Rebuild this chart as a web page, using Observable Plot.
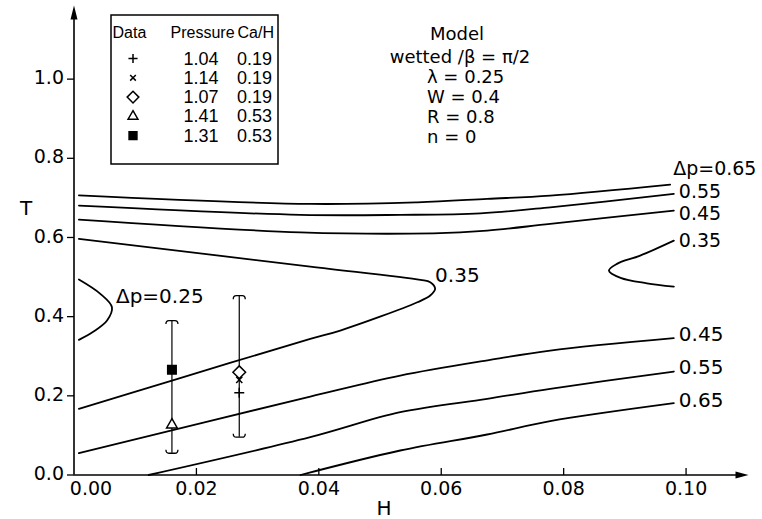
<!DOCTYPE html>
<html><head><meta charset="utf-8">
<script src="https://cdn.jsdelivr.net/npm/d3@7"></script>
<script src="https://cdn.jsdelivr.net/npm/@observablehq/plot@0.6"></script>
<style>
html,body{margin:0;padding:0;background:#fff;}
#chart{width:762px;height:519px;}
</style></head><body><div id="chart"></div>
<script>
// ---- contour lines of Δp, points are [H, T] ----
const dp065Upper = [[0.0008,0.7066],[0.0386,0.6848],[0.0561,0.6889],[0.0675,0.6975],[0.0778,0.7058],[0.0974,0.7336]];
const dp055Upper = [[0.0008,0.6806],[0.0370,0.6571],[0.0533,0.6571],[0.0664,0.6611],[0.0778,0.6763],[0.0980,0.7101]];
const dp045Upper = [[0.0008,0.6452],[0.0370,0.6131],[0.0587,0.6106],[0.0675,0.6174],[0.0778,0.6343],[0.0980,0.6679]];
const dp035Left  = [[0.0008,0.5965],[0.0386,0.5265],[0.0566,0.4929],[0.0582,0.4869],[0.0590,0.4702],[0.0582,0.4533],[0.0561,0.4364],[0.0435,0.3649],[0.0386,0.3439],[0.0160,0.2386],[0.0008,0.1672]];
const dp035Right = [[0.0980,0.5922],[0.0925,0.5543],[0.0887,0.5333],[0.0874,0.5164],[0.0893,0.4980],[0.0936,0.4843],[0.0980,0.4760]];
const dp025      = [[0.0008,0.4937],[0.0043,0.4576],[0.0062,0.4237],[0.0054,0.3902],[0.0032,0.3624],[0.0008,0.3414]];
const dp045Lower = [[0.0008,0.0551],[0.0386,0.1982],[0.0533,0.2513],[0.0680,0.2909],[0.0778,0.3144],[0.0980,0.3455]];
const dp055Lower = [[0.0122,0.0],[0.0386,0.0955],[0.0533,0.1586],[0.0675,0.1924],[0.0778,0.2177],[0.0980,0.2614]];
const dp065Lower = [[0.0370,0.0],[0.0533,0.0619],[0.0675,0.1023],[0.0778,0.1359],[0.0980,0.1813]];

// ---- experimental data ----
const seriesNames    = ["+", "×", "◇", "△", "■"];
const seriesPressure = ["1.04", "1.14", "1.07", "1.41", "1.31"];
const seriesCaH      = ["0.19", "0.19", "0.19", "0.53", "0.53"];
const pointH = [0.0270, 0.0270, 0.0270, 0.0160, 0.0160];
const pointT = [0.2076, 0.2404, 0.2597, 0.1268, 0.2657];
const barH    = [0.0160, 0.0270];
const barLow  = [0.055, 0.0955];
const barHigh = [0.390, 0.453];

// ---- axes ----
const xMax = 0.1102, yMax = 1.186;
const xTicks = [0, 0.02, 0.04, 0.06, 0.08, 0.10];
const xTickLabels = ["0.00", "0.02", "0.04", "0.06", "0.08", "0.10"];
const yTicks = [0, 0.2, 0.4, 0.6, 0.8, 1.0];
const yTickLabels = ["0.0", "0.2", "0.4", "0.6", "0.8", "1.0"];
const legendHeaders = ["Data", "Pressure", "Ca/H"];
const modelLines = ["Model", "wetted /β = π/2", "λ = 0.25", "W = 0.4", "R = 0.8", "n = 0"];

// ---- styles ----
const FONT = "DejaVu Sans, sans-serif";
const LFONT = "Liberation Sans, Arial, sans-serif";
const symbolNames = ["plus", "times", "diamond2", "triangle2", "square"];
const symbolR = [3.3, 2.9, 5.7, 5.1, 4.8];
const d3Symbols = [d3.symbolPlus, d3.symbolTimes, d3.symbolDiamond2, d3.symbolTriangle2, d3.symbolSquare];

const contours = [
  ["065u", dp065Upper], ["055u", dp055Upper], ["045u", dp045Upper],
  ["035l", dp035Left], ["035r", dp035Right], ["025", dp025],
  ["045l", dp045Lower], ["055l", dp055Lower], ["065l", dp065Lower]
];
const contourRows = contours.flatMap(([id, pts]) => pts.map(([H, T]) => ({id, H, T})));

const capTop = {draw(c){ c.moveTo(-6,3.5); c.quadraticCurveTo(-6,0,-3,0); c.lineTo(3,0); c.quadraticCurveTo(6,0,6,3.5); }};
const capBot = {draw(c){ c.moveTo(-6,-3.5); c.quadraticCurveTo(-6,0,-3,0); c.lineTo(3,0); c.quadraticCurveTo(6,0,6,-3.5); }};
const tickUp = {draw(c){ c.moveTo(0,0); c.lineTo(0,-7); }};
const tickLeft = {draw(c){ c.moveTo(0,0); c.lineTo(-7,0); }};
const arrowUp = {draw(c){ c.moveTo(0,0); c.lineTo(-3.5,14); c.lineTo(3.5,14); c.closePath(); }};
const arrowRight = {draw(c){ c.moveTo(0,0); c.lineTo(-13,-3.5); c.lineTo(-13,3.5); c.closePath(); }};

function label(pts, idx, text, dx, dy, size = 20) {
  const p = idx < 0 ? pts[pts.length + idx] : pts[idx];
  return Plot.text([p], {x: d => d[0], y: d => d[1], text: () => text, dx, dy,
    textAnchor: "start", fontSize: size, fill: "black", fontFamily: FONT});
}
function vertex(pts) { return pts.reduce((a, b) => (b[0] > a[0] ? b : a)); }

const points = pointH.map((H, i) => ({H, T: pointT[i], i}));
const bars = barH.map((H, i) => ({H, lo: barLow[i], hi: barHigh[i]}));

const marks = [
  // axes
  Plot.ruleX([0], {y1: 0, y2: yMax - 0.02, stroke: "black", strokeWidth: 1.6}),
  Plot.ruleY([0], {x1: 0, x2: xMax - 0.001, stroke: "black", strokeWidth: 1.6}),
  Plot.dot([[0, yMax]], {x: d => d[0], y: d => d[1], symbol: arrowUp, r: 1, fill: "black", stroke: "none"}),
  Plot.dot([[xMax, 0]], {x: d => d[0], y: d => d[1], symbol: arrowRight, r: 1, fill: "black", stroke: "none"}),
  Plot.dot(xTicks.slice(1), {x: d => d, y: () => 0, symbol: tickUp, r: 1, stroke: "black", fill: "none", strokeWidth: 1.3}),
  Plot.dot(yTicks, {x: () => 0, y: d => d, symbol: tickLeft, r: 1, stroke: "black", fill: "none", strokeWidth: 1.3}),
  Plot.text(xTicks.slice(1), {x: d => d, y: () => 0, text: (d, i) => xTickLabels[i + 1], dy: 14, fontSize: 19, fontFamily: FONT, fill: "black"}),
  Plot.text([xTicks[0]], {x: d => d, y: () => 0, text: () => xTickLabels[0], dy: 14, dx: 17, fontSize: 19, fontFamily: FONT, fill: "black"}),
  Plot.text(yTicks, {x: () => 0, y: d => d, text: (d, i) => yTickLabels[i], dx: -10, dy: -1, textAnchor: "end", fontSize: 19, fontFamily: FONT, fill: "black"}),
  // contours
  Plot.line(contourRows, {x: "H", y: "T", z: "id", curve: "catmull-rom", stroke: "black", strokeWidth: 1.8}),
  label(dp065Upper, -1, "Δp=0.65", 3, -16, 19),
  label(dp055Upper, -1, "0.55", 5, -2, 19),
  label(dp045Upper, -1, "0.45", 5, 3, 19),
  label(dp035Right, 0, "0.35", 5, 0, 19),
  label(dp045Lower, -1, "0.45", 5, -4),
  label(dp055Lower, -1, "0.55", 5, -4),
  label(dp065Lower, -1, "0.65", 5, -3),
  label([vertex(dp035Left)], 0, "0.35", 0, -13),
  label([vertex(dp025)], 0, "Δp=0.25", 4, -11),
  // error bars
  Plot.ruleX(bars, {x: "H", y1: "lo", y2: "hi", stroke: "black", strokeWidth: 1.2}),
  Plot.dot(bars, {x: "H", y: "hi", symbol: capTop, r: 1, stroke: "black", fill: "none", strokeWidth: 1.3}),
  Plot.dot(bars, {x: "H", y: "lo", symbol: capBot, r: 1, stroke: "black", fill: "none", strokeWidth: 1.3}),
  // data points
  ...points.map(p => Plot.dot([p], {x: "H", y: "T", symbol: symbolNames[p.i], r: symbolR[p.i],
     stroke: "black", strokeWidth: 1.5,
     fill: symbolNames[p.i] === "square" ? "black" : (symbolNames[p.i] === "plus" || symbolNames[p.i] === "times" ? "none" : "white")}))
];

const chart = Plot.plot({
  width: 762, height: 519,
  marginLeft: 73.5, marginRight: 14, marginTop: 5, marginBottom: 44.5,
  x: {domain: [0, xMax], axis: null},
  y: {domain: [0, yMax], axis: null},
  style: {fontFamily: FONT, background: "white", color: "black"},
  marks
});
document.getElementById("chart").appendChild(chart);

// ---- annotations: axis titles, legend, model box ----
const svg = d3.select(chart);
const g = svg.append("g").attr("font-family", FONT).attr("fill", "black");
g.append("text").attr("x", 384).attr("y", 515).attr("text-anchor", "middle").attr("font-size", 20).text("H");
g.append("text").attr("x", 26).attr("y", 215).attr("text-anchor", "middle").attr("font-size", 20).text("T");

// legend
const lg = svg.append("g").attr("font-family", LFONT).attr("fill", "black").attr("text-anchor", "start");
lg.append("rect").attr("x", 111).attr("y", 15).attr("width", 167).attr("height", 149)
  .attr("fill", "white").attr("stroke", "black").attr("stroke-width", 1.5);
const hdrY = 38, rowY0 = 64.5, rowDy = 19.3;
const hdrX = [112.5, 170.5, 237.5];
legendHeaders.forEach((h, i) => {
  lg.append("text").attr("x", hdrX[i]).attr("y", hdrY).attr("font-size", 16).text(h);
});
seriesNames.forEach((name, i) => {
  const y = rowY0 + i * rowDy;
  const sz = symbolR[i] * symbolR[i] * Math.PI * 0.85;
  lg.append("path").attr("transform", `translate(133,${y - 6})`)
    .attr("d", d3.symbol().type(d3Symbols[i]).size(sz)())
    .attr("stroke", "black").attr("stroke-width", 1.5)
    .attr("fill", symbolNames[i] === "square" ? "black" : "none");
  lg.append("text").attr("x", 201).attr("y", y).attr("text-anchor", "middle").attr("font-size", 18).text(seriesPressure[i]);
  lg.append("text").attr("x", 237).attr("y", y).attr("font-size", 18).text(seriesCaH[i]);
});

// model text
const mg = svg.append("g").attr("font-family", FONT).attr("fill", "black").attr("font-size", 18);
const modelY = [40, 63, 83, 103, 123, 143];
mg.append("text").attr("x", 457).attr("y", modelY[0]).attr("text-anchor", "middle").text(modelLines[0]);
mg.append("text").attr("x", 460).attr("y", modelY[1]).attr("text-anchor", "middle").text(modelLines[1]);
modelLines.slice(2).forEach((t, i) => {
  mg.append("text").attr("x", 427).attr("y", modelY[i + 2]).attr("text-anchor", "start").text(t);
});
</script></body></html>
